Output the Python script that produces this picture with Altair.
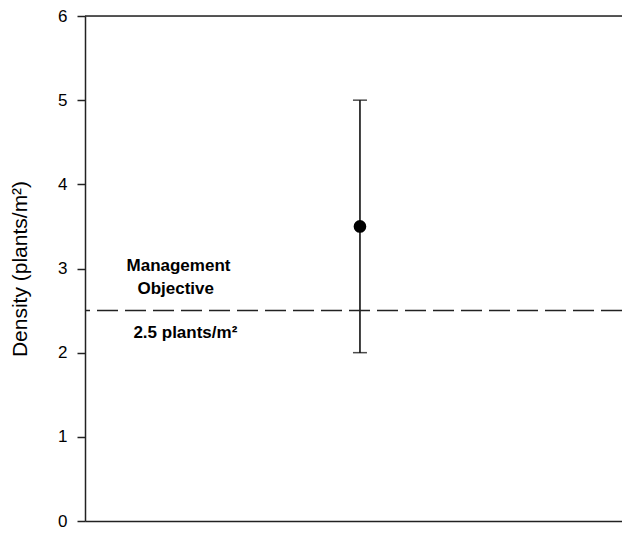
import altair as alt
import pandas as pd

# data
sites = [1.0]
means = [3.5]
lows = [2.0]
highs = [5.0]
objective = [2.5]
label_lines = ["Management", "Objective", "2.5 plants/m²"]
label_x = [0.34, 0.33, 0.365]
label_y = [3.03, 2.755, 2.235]
y_ticks = [0, 1, 2, 3, 4, 5, 6]

W, H = 537, 505
FONT = "Liberation Sans"

df = pd.DataFrame({"x": sites, "mean": means, "lo": lows, "hi": highs})
obj = pd.DataFrame({"y": objective})
lab = pd.DataFrame({"t": label_lines, "x": label_x, "y": label_y})
top = pd.DataFrame({"y": [max(y_ticks)]})

xs = alt.Scale(domain=[0, 1.953], nice=False, zero=False)
ys = alt.Scale(domain=[0, 6], nice=False)

yaxis = alt.Axis(values=y_ticks, format="d", title="Density (plants/m²)")
xaxis = alt.Axis(title=None, labels=False, ticks=False, grid=False)

base = alt.Chart(df)

vline = base.mark_rule(color="#000", strokeWidth=1.5).encode(
    x=alt.X("x:Q", scale=xs, axis=xaxis),
    y=alt.Y("lo:Q", scale=ys, axis=yaxis),
    y2="hi:Q",
)
cap_hi = base.mark_tick(orient="horizontal", size=14, thickness=1.5, color="#000").encode(
    x=alt.X("x:Q", scale=xs, axis=xaxis), y=alt.Y("hi:Q", scale=ys, axis=yaxis))
cap_lo = base.mark_tick(orient="horizontal", size=14, thickness=1.5, color="#000").encode(
    x=alt.X("x:Q", scale=xs, axis=xaxis), y=alt.Y("lo:Q", scale=ys, axis=yaxis))
pt = base.mark_circle(size=160, color="#000", opacity=1).encode(
    x=alt.X("x:Q", scale=xs, axis=xaxis), y=alt.Y("mean:Q", scale=ys, axis=yaxis))

dash = alt.Chart(obj).mark_rule(color="#222", strokeWidth=1.5, strokeDash=[21, 7]).encode(
    y=alt.Y("y:Q", scale=ys, axis=yaxis))
topline = alt.Chart(top).mark_rule(color="#222", strokeWidth=1.5).encode(
    y=alt.Y("y:Q", scale=ys, axis=yaxis))

texts = alt.Chart(lab).mark_text(font=FONT, fontSize=17, fontWeight="bold", color="#000",
                                 align="center", baseline="middle").encode(
    x=alt.X("x:Q", scale=xs, axis=xaxis), y=alt.Y("y:Q", scale=ys, axis=yaxis), text="t:N")

chart = alt.layer(vline, dash, topline, cap_hi, cap_lo, pt, texts).properties(
    width=W, height=H,
    autosize=alt.AutoSizeParams(type="none"),
    padding={"left": 77, "top": 8, "right": 0, "bottom": 9},
).configure_view(stroke=None).configure(background="white").configure_axis(
    grid=False, domainColor="#222", domainWidth=1.5, tickColor="#222", tickWidth=1.5,
    tickSize=8, labelPadding=10, labelFontSize=17, labelFont=FONT, labelColor="#000",
    titleFont=FONT, titleFontSize=21, titleFontWeight="normal", titleColor="#000",
    titlePadding=27,
)

chart.save("out.html", embed_options={"renderer": "svg", "actions": False})
